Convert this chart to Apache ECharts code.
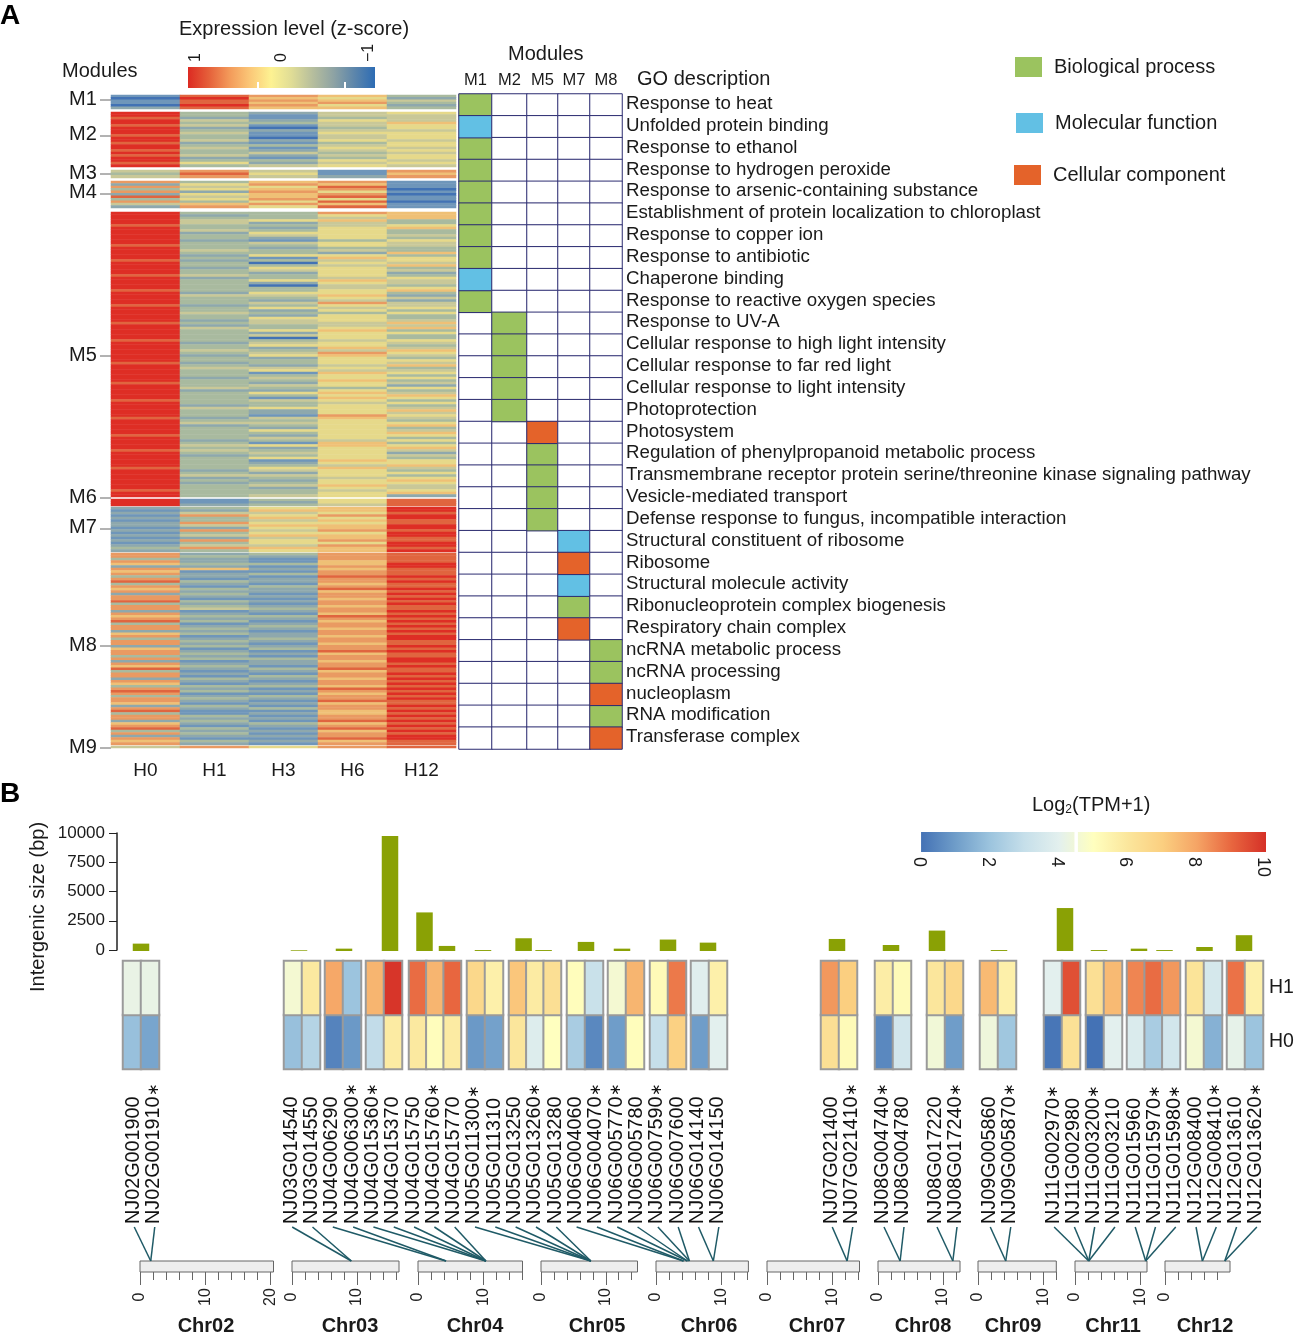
<!DOCTYPE html>
<html><head><meta charset="utf-8">
<style>html,body{margin:0;padding:0;background:#fff}#c{width:1297px;height:1335px}</style>
<script src="https://cdn.jsdelivr.net/npm/echarts@6/dist/echarts.min.js"></script>
</head><body><div id="c"></div>
<script>
// ---------- Panel A data: z-score level per row, digit 0 (z=-1) .. 9 (z=+1); columns H0 H1 H3 H6 H12
const hours = ['H0','H1','H3','H6','H12'];
const moduleNames = ['M1','M2','M3','M4','M5','M6','M7','M8','M9'];
const heatM1 = ['18763','09652','18764','18673','09752','28663'];
const heatM2 = ['93245','93144','82134','94254','93346','84145','92035','93244','94155','83145','93045','94254','82135','93345','94154','83245','93434','84245','92135','93354','85245','93454'];
const heatM3 = ['47417','38516','47427'];
const heatM4 = ['73671','25761','74581','35670','72751','25670','84681','35751','73580','46761','27581'];
const heatM5 = ['93376','92356','93346','94563','94243','83345','93256','94353','92553','93454',
 '93253','92135','93454','83354','93233','94343','93326','92553','93165','82345',
 '93054','93346','92553','93454','93252','84353','92345','93564','93254','93043',
 '93345','83356','92553','94462','93354','93242','93474','82354','93545','93253',
 '94335','93253','93553','92454','83446','92344','94356','93563','93255','93453',
 '93053','83345','92454','93553','93264','94346','93475','92564','93253','93355',
 '82354','93246','94453','93544','93165','93353','92455','93363','83254','93452',
 '94335','92253','93564','93356','93165','83453','93345','92353','94554','93256',
 '93254','93175','82464','93353','94455','92356','93253','93554','93356','83255',
 '93453','92345','93163','94565','93256','84354','93452','92354','93553','93165',
 '93255','93346','83564','92453','93255','94453','92345','93256','92355','93464',
 '93254','83345','93356','93452'];
const heatM6 = ['91358','91258','92348'];
const heatM7 = ['23569','12669','24458','17579','23659','13468','27558','24669','12569','27478','13559','24669','12468','27578','13559','24479','37668','23569'];
const heatM8 = ['72378','73278','32178','72168','63369','22179','76268','61178','72378','32189','71278','83279','32168','71378','63289','72268','23179','72278','71169','83278',
 '32179','73268','74378','21279','72168','63389','72278','83169','31278','72379','73268','22179','63278','71269','32379','73278','72168','23279','61378','72189',
 '73268','32178','73379','21269','72278','63179','82388','31268','72179','71378','23269','72178','61279','33368','72189','83278','71169','32378','73279','72188',
 '61268','23179','72378','81169','31268','73179','72278','23189','62368','71279','83188','32269','73178','22279','71189','63268','72178'];
const heatM9 = ['47578'];
const heatModules = [heatM1,heatM2,heatM3,heatM4,heatM5,heatM6,heatM7,heatM8,heatM9];

// ---------- Panel A GO table
const goDescriptions = ['Response to heat','Unfolded protein binding','Response to ethanol','Response to hydrogen peroxide','Response to arsenic-containing substance','Establishment of protein localization to chloroplast','Response to copper ion','Response to antibiotic','Chaperone binding','Response to reactive oxygen species','Response to UV-A','Cellular response to high light intensity','Cellular response to far red light','Cellular response to light intensity','Photoprotection','Photosystem','Regulation of phenylpropanoid metabolic process','Transmembrane receptor protein serine/threonine kinase signaling pathway','Vesicle-mediated transport','Defense response to fungus, incompatible interaction','Structural constituent of ribosome','Ribosome','Structural molecule activity','Ribonucleoprotein complex biogenesis','Respiratory chain complex','ncRNA metabolic process','ncRNA processing','nucleoplasm','RNA modification','Transferase complex'];
const goModules = ['M1','M2','M5','M7','M8'];
const goRowModule = [0,0,0,0,0,0,0,0,0,0,1,1,1,1,1,2,2,2,2,2,3,3,3,3,3,4,4,4,4,4];
const goRowType   = [0,1,0,0,0,0,0,0,1,0,0,0,0,0,0,2,0,0,0,0,1,2,1,0,2,0,0,2,0,2];
const goTypes = ['Biological process','Molecular function','Cellular component'];

// ---------- Panel B data
const geneGroups = [['NJ02G001900','NJ02G001910*'],['NJ03G014540','NJ03G014550'],['NJ04G006290','NJ04G006300*'],['NJ04G015360*','NJ04G015370'],['NJ04G015750','NJ04G015760*','NJ04G015770'],['NJ05G011300*','NJ05G011310'],['NJ05G013250','NJ05G013260*','NJ05G013280'],['NJ06G004060','NJ06G004070*'],['NJ06G005770*','NJ06G005780'],['NJ06G007590*','NJ06G007600'],['NJ06G014140','NJ06G014150'],['NJ07G021400','NJ07G021410*'],['NJ08G004740*','NJ08G004780'],['NJ08G017220','NJ08G017240*'],['NJ09G005860','NJ09G005870*'],['NJ11G002970*','NJ11G002980'],['NJ11G003200*','NJ11G003210'],['NJ11G015960','NJ11G015970*','NJ11G015980*'],['NJ12G008400','NJ12G008410*'],['NJ12G013610','NJ12G013620*']];
const tpmH1 = [[4.2,4.2],[4.6,5.9],[7.9,2.0],[7.6,9.9],[8.9,7.6,9.0],[6.6,5.6],[7.2,5.8,6.3],[5.1,3.1],[4.6,7.6],[5.2,8.7],[3.9,5.6],[8.2,7.0],[5.7,5.2],[6.0,6.6],[7.5,5.6],[4.0,9.4],[6.3,7.5],[8.5,8.9,8.2],[6.1,3.5],[8.8,5.6]];
const tpmH0 = [[1.9,1.2],[1.9,2.6],[0.4,0.9],[2.9,5.8],[5.9,5.1,5.8],[0.9,1.1],[6.0,3.8,5.0],[2.3,0.5],[1.0,5.1],[3.0,6.9],[1.0,4.0],[6.3,5.2],[0.5,3.4],[4.5,1.0],[4.4,2.1],[0.1,6.2],[0.0,4.0],[3.7,2.3,3.4],[4.6,1.5],[4.1,2.0]];
const intergenicBp = [[625],[60],[200],[9740],[3270,430],[80],[1080,80],[770],[200],[970],[710],[1020],[510],[1730],[80],[3640],[80],[200,80],[340],[1340]];
const chrNames = ['Chr02','Chr03','Chr04','Chr05','Chr06','Chr07','Chr08','Chr09','Chr11','Chr12'];
const chrLengthMb = [20.5,16.5,16,14.9,14.1,14.2,12.6,12,11,9.9];
const chrGenePosMb = [[1.65,1.65],[9.15,9.15],[4.3,4.3,10.4,10.4,10.4,10.4,10.4],[7.7,7.7,7.7,7.7,7.7],[4.2,4.2,4.8,4.8,5.1,5.1,8.75,8.75],[12.3,12.3],[3.4,3.4,11.5,11.5],[4.25,4.25],[2.1,2.1,2.1,2.1,10.8,10.8,10.8],[5.7,5.7,9.1,9.1]];
const chrTickLabels = [[0,10,20],[0,10],[0,10],[0,10],[0,10],[0,10],[0,10],[0,10],[0,10],[0]];

// ---------- Layout (pixels)
const FONT = '"Liberation Sans",Arial,sans-serif';
const moduleBox = [[95,14],[112,55],[170,8],[181,27],[212,285],[499,7],[507,45],[553,192],[746,2]];
const moduleLabelY = [98,133,172,191,354,496,526,644,746];
const moduleTickY  = [100,136,174,194,356,498,529,646,748];
const goColumnEdges = [459,492,527,558,590,622];
const groupBox = [[123,36],[284,36],[325,36],[366,36],[409,52],[467,36],[509,52],[567,36],[608,36],[650,36],[691,36],[821,36],[875,36],[927,36],[980,36],[1044,36],[1086,36],[1127,53],[1186,36],[1227,36]];
const barCentres = [[141],[299],[344],[390],[424.5,447],[483],[523.6,543.6],[586],[622],[668],[708],[837],[891],[937],[999],[1065],[1099],[1139,1164.5],[1204.5],[1244]];
const labelRuns = [[123,41,2],[281,447,22],[821,41,2],[873,40,2],[926,40,2],[979,41,2],[1043,223,11]];
const chrBox = [[140,133.5],[292,107],[418,104.5],[541,96.5],[656,92.4],[767,92.5],[878,82],[978,78.3],[1075,72],[1165,65]];
const chrLabelX = [206,350,475,597,709,817,923,1013,1113,1205];

// ---------- Colours
const colorsHeat = ['#4272b4','#6f96ba','#8ea8ad','#a9ba9f','#c9c898','#e6d98a','#efc076','#e99a62','#e0653f','#de2e25'];
const colorsZ = ['#2d6cb4','#5d86ab','#8ea3a4','#b6be9d','#dfdc96','#fdf292','#fbc878','#f39a5a','#e5603a','#dc2a22'];
const colorsTpm = ['#4472b5','#6f9dc9','#9cc4de','#c6dfea','#e3f0ee','#ffffbf','#fbe69c','#fbcf80','#f5a465','#e8663f','#d53027'];
const goColors = ['#9bc35f','#62c0e4','#e4632a'];
const grid=[],xAxis=[],yAxis=[],series=[],graphic=[];
function addGrid(g,x,y){
  const i=grid.length;
  grid.push(Object.assign({containLabel:false,show:false},g));
  const xi=xAxis.length,yi=yAxis.length;
  xAxis.push(Object.assign({gridIndex:i,show:false},x));
  yAxis.push(Object.assign({gridIndex:i,show:false},y));
  return {g:i,x:xi,y:yi};
}
function text(t,x,y,size,o){
  o=o||{};
  graphic.push({type:'text',x,y:y+1,rotation:o.rot||0,silent:true,style:{text:t,fill:o.fill||'#1a1a1a',font:(o.bold?'bold ':'')+size+'px '+FONT,align:o.align||'left',verticalAlign:'middle'}});
}
function gradientOf(list,reverse){
  const c=reverse?list.slice().reverse():list;
  return new echarts.graphic.LinearGradient(0,0,1,0,c.map((color,i)=>({offset:i/(c.length-1),color})));
}

// ---------- Heat panel A
const heatSeriesIdx=[];
heatModules.forEach((rows,m)=>{
  const last=m===heatModules.length-1;
  const g=addGrid({left:111,top:moduleBox[m][0],width:345,height:moduleBox[m][1]},
    {type:'category',data:hours,show:last,axisLine:{show:false},axisTick:{show:false},axisLabel:{fontSize:19,fontFamily:FONT,color:'#1a1a1a',margin:13}},
    {type:'category',data:rows.map((r,i)=>i),inverse:true});
  const data=[];
  rows.forEach((r,ri)=>r.split('').forEach((d,ci)=>data.push([ci,ri,-1+(+d)*2/9])));
  heatSeriesIdx.push(series.length);
  series.push({type:'heatmap',name:moduleNames[m],xAxisIndex:g.x,yAxisIndex:g.y,data,silent:true,progressive:0,itemStyle:{borderWidth:0}});
  text(moduleNames[m],69,moduleLabelY[m],20);
  graphic.push({type:'line',silent:true,shape:{x1:100,y1:moduleTickY[m],x2:111,y2:moduleTickY[m]},style:{stroke:'#666',lineWidth:1}});
});

// ---------- GO table: one narrow grid per module column
const border={borderColor:'#2b2b70',borderWidth:1};
goModules.forEach((mod,c)=>{
  const gt=addGrid({left:goColumnEdges[c],top:94,width:goColumnEdges[c+1]-goColumnEdges[c],height:655},
    {type:'category',data:[mod],show:true,position:'top',axisLine:{show:false},axisTick:{show:false},axisLabel:{interval:0,fontSize:16.5,fontFamily:FONT,color:'#1a1a1a',margin:5}},
    {type:'category',data:goDescriptions,inverse:true});
  const blank=[];
  goDescriptions.forEach((d,r)=>{ if(goRowModule[r]!==c) blank.push([0,r,0]); });
  series.push({type:'heatmap',name:'none',xAxisIndex:gt.x,yAxisIndex:gt.y,data:blank,silent:true,itemStyle:Object.assign({color:'#fff'},border)});
  goTypes.forEach((t,ti)=>{
    const d=[];
    goDescriptions.forEach((_,r)=>{ if(goRowModule[r]===c&&goRowType[r]===ti) d.push([0,r,1]); });
    series.push({type:'heatmap',name:t,xAxisIndex:gt.x,yAxisIndex:gt.y,data:d,silent:true,itemStyle:Object.assign({color:goColors[ti]},border)});
  });
});
// description labels, on their own axis one pixel above the cells as in the reference
addGrid({left:621,top:93,width:1,height:655},{type:'category',data:['']},
  {type:'category',data:goDescriptions,show:true,inverse:true,position:'right',axisLine:{show:false},axisTick:{show:false},axisLabel:{interval:0,fontSize:18.7,fontFamily:FONT,color:'#1a1a1a',margin:4}});
const legend=[[1015,57],[1016,113],[1014,165]].map((p,i)=>({
  left:p[0],top:p[1],padding:0,data:[goTypes[i]],selectedMode:false,itemWidth:27,itemHeight:20,
  icon:'rect',itemStyle:{borderWidth:0},textStyle:{fontSize:20,fontFamily:FONT,color:'#1a1a1a',padding:[0,0,3,7]}
}));

// ---------- Colour bars
const cbZ=addGrid({left:188,top:67,width:187,height:21},
  {type:'value',show:true,inverse:true,min:-1.08,max:1.093,position:'top',axisLine:{show:false},splitLine:{show:false},z:5,
   axisTick:{show:true,inside:true,length:6,customValues:[1,0,-1],lineStyle:{color:'#fff',width:2}},
   axisLabel:{rotate:90,customValues:[1,0,-1],fontSize:16,fontFamily:FONT,color:'#1a1a1a',margin:5,formatter:v=>String(v).replace('-','\u2212')}},
  {type:'value',min:0,max:1});
series.push({type:'custom',xAxisIndex:cbZ.x,yAxisIndex:cbZ.y,silent:true,clip:false,data:[[-1.08,1.093]],encode:{x:[0,1]},z:1,
  renderItem:(p,api)=>{const a=api.coord([1.093,0]),b=api.coord([-1.08,1]);return {type:'rect',shape:{x:a[0],y:b[1],width:b[0]-a[0],height:a[1]-b[1]},style:{fill:gradientOf(colorsZ,true)}};}});
addGrid({left:188,top:67,width:187,height:21},
  {type:'value',show:true,inverse:true,min:-1.08,max:1.093,position:'bottom',axisLine:{show:false},splitLine:{show:false},axisLabel:{show:false},z:5,
   axisTick:{show:true,inside:true,length:6,customValues:[0.28,-0.73],lineStyle:{color:'#fff',width:2}}},
  {type:'value',min:0,max:1});
const cbT=addGrid({left:919,top:832,width:347,height:20},
  {type:'value',show:true,min:0,max:10.09,axisLine:{show:false},splitLine:{show:false},axisTick:{show:false},
   axisLabel:{rotate:-90,customValues:[0,2,4,6,8,10],fontSize:18,fontFamily:FONT,color:'#1a1a1a',margin:5}},
  {type:'value',min:0,max:1});
series.push({type:'custom',xAxisIndex:cbT.x,yAxisIndex:cbT.y,silent:true,clip:false,data:[[0.06,10.09,0],[4.52,4.62,1]],encode:{x:[0,1]},
  renderItem:(p,api)=>{const a=api.coord([api.value(0),0]),b=api.coord([api.value(1),1]);
    return {type:'rect',shape:{x:a[0],y:b[1],width:b[0]-a[0],height:a[1]-b[1]},style:{fill:api.value(2)===1?'#fff':gradientOf(colorsTpm,false)}};}});

// ---------- Panel B axis for bars
addGrid({left:117,top:833,width:1,height:117},{type:'category',data:['']},
  {type:'value',show:true,min:0,max:10000,interval:2500,axisLine:{show:true,lineStyle:{color:'#222',width:1.5}},axisTick:{show:true,length:8,lineStyle:{color:'#222'}},splitLine:{show:false},
   axisLabel:{fontSize:17,fontFamily:FONT,color:'#1a1a1a',margin:12,formatter:v=>String(v)}});

// ---------- Gene groups: cells + bars
const tpmSeriesIdx=[];
geneGroups.forEach((genes,i)=>{
  const [l,w]=groupBox[i],lastG=i===geneGroups.length-1;
  const g=addGrid({left:l,top:961,width:w,height:108},
    {type:'category',data:genes},
    {type:'category',data:['H0','H1'],show:lastG,position:'right',axisLine:{show:false},axisTick:{show:false},axisLabel:{fontSize:19.5,fontFamily:FONT,color:'#1a1a1a',margin:6,padding:[0,0,3,0]}});
  const d=[];
  genes.forEach((_,c)=>{d.push([c,0,tpmH0[i][c]]);d.push([c,1,tpmH1[i][c]]);});
  tpmSeriesIdx.push(series.length);
  series.push({type:'heatmap',xAxisIndex:g.x,yAxisIndex:g.y,data:d,silent:true,itemStyle:{borderColor:'#9a9a9a',borderWidth:2}});
  const c=barCentres[i],slot=c.length>1?c[1]-c[0]:16.5;
  const b=addGrid({left:c[0]-slot/2,top:833,width:slot*c.length,height:118},
    {type:'category',data:intergenicBp[i].map((v,k)=>k)},
    {type:'value',min:0,max:10000});
  series.push({type:'bar',xAxisIndex:b.x,yAxisIndex:b.y,data:intergenicBp[i],barWidth:16.5,silent:true,itemStyle:{color:'#8aa105'}});
});

// ---------- Gene labels
const allGenes=geneGroups.flat();
const geneAxis=[];
let gi=0;
labelRuns.forEach(([l,w,n])=>{
  const names=allGenes.slice(gi,gi+n);
  const g=addGrid({left:l,top:1224,width:w,height:1},
    {type:'category',data:names,show:true,position:'top',axisLine:{show:false},axisTick:{show:false},
     axisLabel:{interval:0,rotate:90,fontSize:19.8,fontFamily:FONT,color:'#111',margin:0,hideOverlap:false,
       formatter:v=>v.replace('*','{a|\u2217}'),rich:{a:{fontSize:15,fontFamily:FONT,color:'#111'}}}},
    {type:'value',min:0,max:1});
  for(let k=0;k<n;k++) geneAxis.push([g.x,k]);
  gi+=n;
});

// ---------- Chromosomes
const chrGeneOffset=[];let off=0;chrGenePosMb.forEach(a=>{chrGeneOffset.push(off);off+=a.length;});
const chrAxes=[];
chrNames.forEach((name,i)=>{
  const [l,w]=chrBox[i],len=chrLengthMb[i];
  const minors=[];for(let v=0;v<=len;v+=2)minors.push(v);
  const g=addGrid({left:l,top:1261,width:w,height:11,show:true,backgroundColor:'#eeeeee',borderColor:'#666',borderWidth:1},
    {type:'value',show:true,min:0,max:len,axisLine:{show:false},splitLine:{show:false},
     axisTick:{show:true,length:13,customValues:chrTickLabels[i],lineStyle:{color:'#666',width:1}},
     axisLabel:{customValues:chrTickLabels[i],rotate:90,align:'center',verticalAlign:'middle',fontSize:16,fontFamily:FONT,color:'#222',margin:25}},
    {type:'value',min:0,max:1});
  xAxis.push({gridIndex:g.g,type:'value',show:true,min:0,max:len,position:'bottom',axisLine:{show:false},splitLine:{show:false},axisLabel:{show:false},
    axisTick:{show:true,length:8,customValues:minors,lineStyle:{color:'#666',width:1}}});
  chrAxes.push(g);
  text(name,chrLabelX[i],1325,20,{bold:true,align:'center'});
});

// ---------- Free text
text('A',0,15,28,{bold:true,fill:'#000'});
text('B',0,793,28,{bold:true,fill:'#000'});
text('Expression level (z-score)',179,28,20);
text('Modules',62,70,20);
text('Modules',508,53,20);
text('GO description',637,78,20);
text('Intergenic size (bp)',38,906,20,{rot:Math.PI/2,align:'center'});
graphic.push({type:'text',x:1032,y:805,silent:true,style:{text:'Log{s|2}(TPM+1)',fill:'#1a1a1a',font:'20px '+FONT,verticalAlign:'middle',rich:{s:{fontSize:12,fontFamily:FONT,fill:'#1a1a1a',padding:[9,0,0,0]}}}});

const option={
  animation:false,backgroundColor:'#fff',
  grid,xAxis,yAxis,series,legend,graphic,
  visualMap:[
    {show:false,type:'continuous',min:-1,max:1,seriesIndex:heatSeriesIdx,inRange:{color:colorsHeat}},
    {show:false,type:'continuous',min:0,max:10,seriesIndex:tpmSeriesIdx,inRange:{color:colorsTpm}}
  ]
};
const chart=echarts.init(document.getElementById('c'),null,{renderer:'canvas'});
chart.setOption(option);

// ---------- Connectors: from each gene label to its position on the chromosome axis
const geneLabelX=geneAxis.map(([ax,k])=>chart.convertToPixel({xAxisIndex:ax},k));
chrNames.forEach((name,i)=>{
  const a=chrAxes[i],off0=chrGeneOffset[i];
  series.push({type:'custom',xAxisIndex:a.x,yAxisIndex:a.y,silent:true,clip:false,z:3,
    data:chrGenePosMb[i].map((mb,k)=>[mb,1,off0+k]),encode:{x:0,y:1},
    renderItem:(p,api)=>{
      const b=api.coord([api.value(0),1]);
      const tx=geneLabelX[api.value(2)]+1;
      return {type:'line',shape:{x1:tx,y1:b[1]-34,x2:b[0],y2:b[1]},style:{stroke:'#1f5a66',lineWidth:1.5}};
    }});
});
chart.setOption(option,true);
</script></body></html>
